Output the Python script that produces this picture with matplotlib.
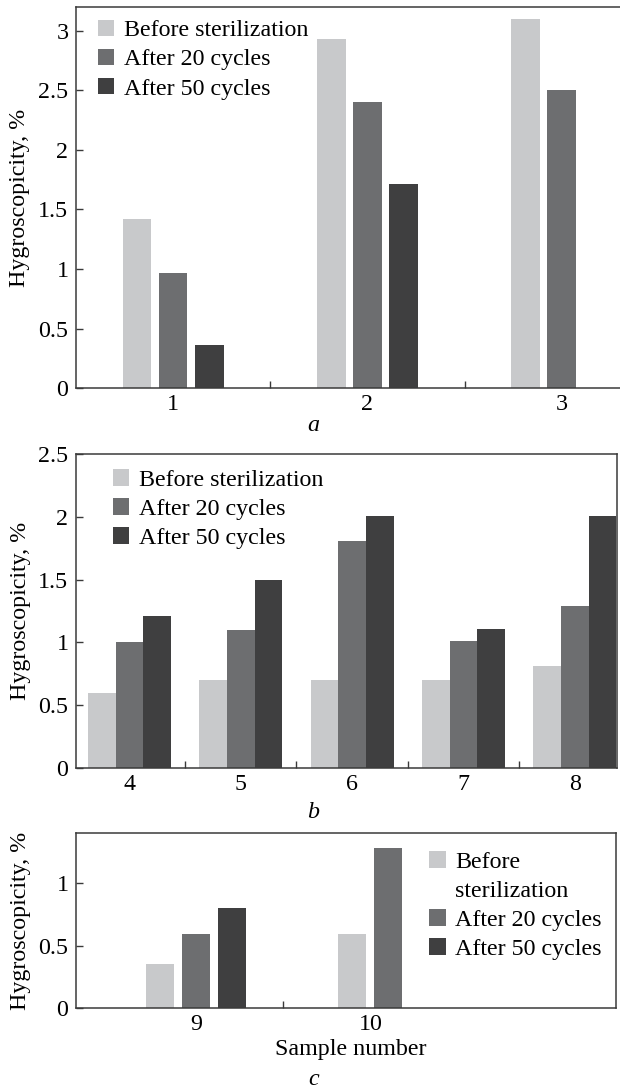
import matplotlib
matplotlib.use('Agg')
from matplotlib import pyplot as plt
from matplotlib.patches import Rectangle
import numpy as np

plt.rcParams['font.family'] = ['Liberation Serif', 'DejaVu Serif']
plt.rcParams['font.size'] = 17.3

series_names = ['Before sterilization', 'After 20 cycles', 'After 50 cycles']
colors = ['#c8c9cb', '#6d6e70', '#3f3f40']

# panel a: samples 1-3
samples_a = ['1', '2', '3']
before_a = [1.42, 2.93, 3.10]
after20_a = [0.97, 2.40, 2.50]
after50_a = [0.36, 1.71, np.nan]

# panel b: samples 4-8
samples_b = ['4', '5', '6', '7', '8']
before_b = [0.60, 0.70, 0.70, 0.70, 0.81]
after20_b = [1.00, 1.10, 1.81, 1.01, 1.29]
after50_b = [1.21, 1.50, 2.01, 1.11, 2.01]

# panel c: samples 9-10
samples_c = ['9', '10']
before_c = [0.35, 0.59]
after20_c = [0.59, 1.28]
after50_c = [0.80, np.nan]

yticks_a = [0, 0.5, 1, 1.5, 2, 2.5, 3]
yticks_b = [0, 0.5, 1, 1.5, 2, 2.5]
yticks_c = [0, 0.5, 1]

SPINE = '#3a3a3a'
LEG = dict(frameon=False, borderpad=0, borderaxespad=0, handlelength=0.68,
           handleheight=0.68, handletextpad=0.4, labelspacing=0.31)


def draw_panel(ax, labels, series, width, step, centered):
    pos = np.arange(len(labels))
    for i, x in enumerate(pos):
        present = [k for k in range(len(series)) if not np.isnan(series[k][i])]
        n = len(present)
        if centered:
            offs = (np.arange(n) - (n - 1) / 2) * step
        else:
            offs = (np.arange(n) - 1) * step
        for off, k in zip(offs, present):
            ax.bar(x + off, series[k][i], width=width, color=colors[k],
                   label=series_names[k] if i == 0 else None)
    # separators between groups (major ticks), labels at group centres (minor)
    ax.set_xticks(pos[:-1] + 0.5)
    ax.set_xticklabels([])
    ax.set_xticks(pos, minor=True)
    ax.set_xticklabels(labels, minor=True)
    ax.tick_params(axis='x', which='major', direction='in', length=5,
                   width=1, color=SPINE)
    ax.tick_params(axis='x', which='minor', length=0, pad=4)
    ax.tick_params(axis='y', direction='in', length=5, width=1,
                   color=SPINE, pad=5.5)
    for s in ax.spines.values():
        s.set_color(SPINE)
        s.set_linewidth(1.1)
    ax.set_ylabel('Hygroscopicity, %')


def fmt(ticks):
    return ['%g' % t for t in ticks]


fig = plt.figure(figsize=(6.2, 10.9), dpi=100)

# a
ax1 = fig.add_axes([0.1226, 0.644, 0.8774, 0.3495])
draw_panel(ax1, samples_a, [before_a, after20_a, after50_a], 0.147, 0.186, False)
ax1.set_xlim(-0.5, 2.3)
ax1.set_ylim(0, 3.2)
ax1.set_yticks(yticks_a)
ax1.set_yticklabels(fmt(yticks_a))
ax1.spines['right'].set_visible(False)
ax1.yaxis.set_label_coords(-0.084, 0.5)
ax1.legend(loc='center left', bbox_to_anchor=(0.040, 0.862), **LEG)

# b
ax2 = fig.add_axes([0.1226, 0.2954, 0.8726, 0.288])
draw_panel(ax2, samples_b, [before_b, after20_b, after50_b], 0.249, 0.249, True)
ax2.set_xlim(-0.48, 4.38)
ax2.set_ylim(0, 2.5)
ax2.set_yticks(yticks_b)
ax2.set_yticklabels(fmt(yticks_b))
ax2.yaxis.set_label_coords(-0.083, 0.5)
ax2.legend(loc='center left', bbox_to_anchor=(0.068, 0.825), **LEG)

# c
ax3 = fig.add_axes([0.1226, 0.0752, 0.871, 0.1606])
draw_panel(ax3, samples_c, [before_c, after20_c, after50_c], 0.161, 0.207, True)
ax3.set_xlim(-0.69, 2.41)
ax3.set_ylim(0, 1.4)
ax3.set_yticks(yticks_c)
ax3.set_yticklabels(fmt(yticks_c))
ax3.yaxis.set_label_coords(-0.083, 0.5)
handles, names = ax3.get_legend_handles_labels()
blank = Rectangle((0, 0), 1, 1, fill=False, edgecolor='none')
handles = [handles[0], blank, handles[1], handles[2]]
names = ['Before', 'sterilization', names[1], names[2]]
ax3.legend(handles, names, loc='center left', bbox_to_anchor=(0.654, 0.585),
           **LEG)

fig.text(0.505, 1 - 431 / 1090, 'a', style='italic', ha='center', va='baseline')
fig.text(0.505, 1 - 818 / 1090, 'b', style='italic', ha='center', va='baseline')
fig.text(0.565, 1 - 1055 / 1090, 'Sample number', ha='center', va='baseline')
fig.text(0.505, 1 - 1085 / 1090, 'c', style='italic', ha='center', va='baseline')

fig.savefig('out.png', dpi=100)
